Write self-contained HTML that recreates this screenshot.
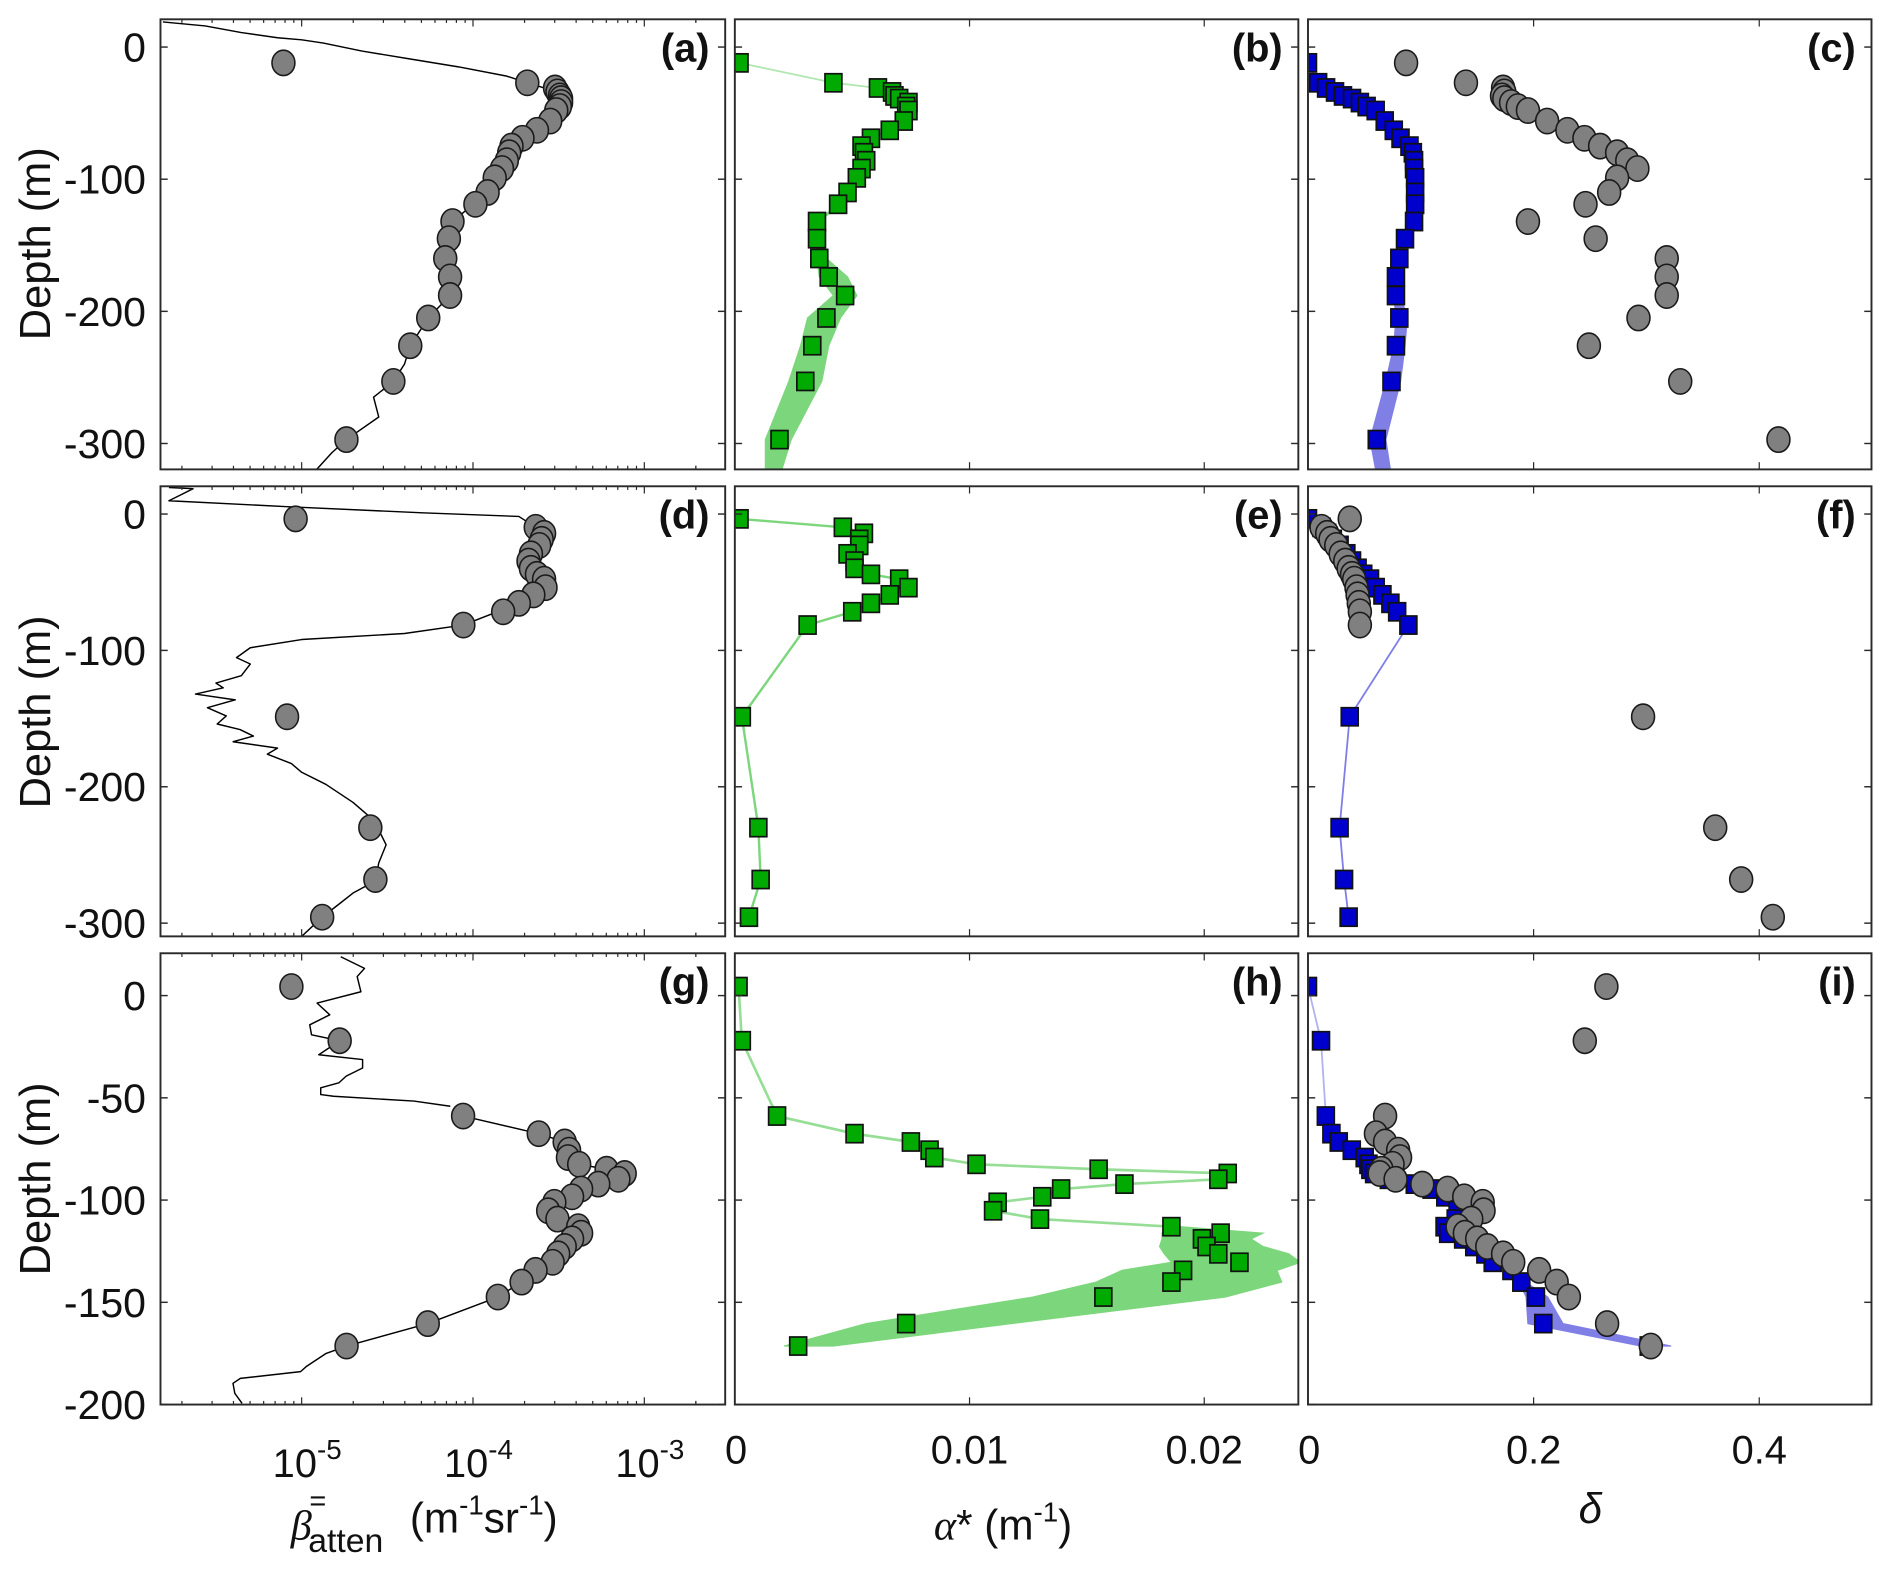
<!DOCTYPE html>
<html><head><meta charset="utf-8">
<style>
html,body{margin:0;padding:0;background:#fff;}
svg{display:block;}
text{font-family:"Liberation Sans",Arial,sans-serif;fill:#111;}
</style></head>
<body>
<svg id="fig" xmlns="http://www.w3.org/2000/svg" width="1892" height="1594" viewBox="0 0 1568 1321" preserveAspectRatio="none">
<defs id="defs"></defs>
<g id="layer"></g>
<text x="32" y="202" font-size="36" text-anchor="middle" dominant-baseline="middle" transform="rotate(-90 32 202)">Depth (m)</text>
<text x="32" y="590" font-size="36" text-anchor="middle" dominant-baseline="middle" transform="rotate(-90 32 590)">Depth (m)</text>
<text x="32" y="977" font-size="36" text-anchor="middle" dominant-baseline="middle" transform="rotate(-90 32 977)">Depth (m)</text>
<text x="241" y="1276" font-size="35"><tspan font-family="Liberation Serif" font-style="italic">β</tspan><tspan font-size="24" dx="-2" dy="-24">=</tspan><tspan font-size="28" dx="-15" dy="34">atten</tspan><tspan dx="22" dy="-16">(m</tspan><tspan font-size="23" dy="-15">-1</tspan><tspan dy="15">sr</tspan><tspan font-size="23" dy="-15">-1</tspan><tspan dy="15">)</tspan></text>
<text x="774" y="1276" font-size="35"><tspan font-family="Liberation Serif" font-style="italic">α</tspan><tspan>* (m</tspan><tspan font-size="23" dy="-15">-1</tspan><tspan dy="15">)</tspan></text>
<text x="1318" y="1262" font-size="35" text-anchor="middle" font-family="Liberation Serif" font-style="italic">δ</text>
</svg>
<script>
// ---------- DATA ----------
// Row 1 (panels a,b,c)
const depth1 = [-12,-27,-31,-34,-37,-39,-42,-45,-48,-56,-63,-69,-75,-80,-86,-92,-99,-110,-119,-132,-145,-160,-174,-188,-205,-226,-253,-297];
const logBetaA = [-5.106,-3.683,-3.521,-3.507,-3.493,-3.486,-3.486,-3.493,-3.514,-3.549,-3.627,-3.711,-3.775,-3.789,-3.803,-3.831,-3.873,-3.915,-3.986,-4.120,-4.141,-4.162,-4.134,-4.134,-4.261,-4.366,-4.465,-4.739];
const lineDepthA = [19,16,11,7,5.5,3,-3,-9,-15,-22,-27,-34,-42,-50,-63,-75,-92,-110,-132,-160,-188,-205,-226,-240,-253,-265,-280,-297,-307,-320];
const lineLogBetaA = [-5.81,-5.563,-5.352,-5.141,-5.0,-4.873,-4.648,-4.366,-4.085,-3.803,-3.683,-3.507,-3.486,-3.514,-3.627,-3.775,-3.831,-3.915,-4.120,-4.162,-4.134,-4.261,-4.366,-4.40,-4.465,-4.58,-4.55,-4.739,-4.824,-4.915];
const alphaB = [0.0002,0.0042,0.0061,0.0067,0.0068,0.0070,0.0074,0.0073,0.0074,0.0072,0.0066,0.0058,0.0054,0.0055,0.0056,0.0054,0.0052,0.0048,0.0044,0.0035,0.0035,0.0036,0.0040,0.0047,0.0039,0.0033,0.0030,0.0019];
const bandDepthB = [-119,-132,-145,-160,-174,-188,-205,-226,-253,-297,-320];
const bandLoB = [0.0044,0.0035,0.0035,0.0035,0.0036,0.0042,0.0031,0.0028,0.0023,0.0013,0.0013];
const bandHiB = [0.0045,0.0036,0.0037,0.0039,0.0048,0.0052,0.0045,0.0040,0.0037,0.0024,0.0020];
const deltaSqC = [0,0.009,0.016,0.024,0.031,0.039,0.046,0.052,0.060,0.068,0.076,0.082,0.090,0.093,0.094,0.094,0.095,0.095,0.095,0.094,0.086,0.081,0.078,0.078,0.081,0.078,0.074,0.061];
const deltaCirC = [0.087,0.140,0.173,0.174,0.172,0.174,0.180,0.186,0.195,0.212,0.230,0.245,0.259,0.274,0.283,0.292,0.274,0.267,0.246,0.195,0.255,0.318,0.318,0.318,0.293,0.249,0.330,0.417];
const bandDepthC = [-174,-188,-205,-226,-253,-297,-320];
const bandLoC = [0.076,0.076,0.078,0.076,0.069,0.055,0.060];
const bandHiC = [0.080,0.082,0.088,0.086,0.082,0.069,0.073];
// Row 2 (panels d,e,f)
const depth2 = [-3.5,-9.7,-14.2,-18.6,-23,-29.2,-34.5,-39.8,-44.2,-47.8,-54,-59.3,-65.5,-71.7,-81.4,-148.7,-230,-268,-295.6];
const logBetaD = [-5.035,-3.634,-3.585,-3.599,-3.613,-3.662,-3.676,-3.662,-3.627,-3.585,-3.577,-3.648,-3.732,-3.824,-4.056,-5.085,-4.599,-4.570,-4.880];
const lineDepthD = [19.5,18.6,14.2,9.7,5.3,0.9,-1.8,-9.7,-23,-39.8,-54,-65.5,-81.4,-87.6,-92,-98,-105.3,-110,-118.6,-124,-127.4,-132,-136.3,-142,-148,-154,-158,-162.8,-167,-171.7,-176.1,-183,-189.4,-198.2,-211.5,-224.8,-242.5,-255.8,-269,-277.9,-286.7,-295.6,-309.7];
const lineLogBetaD = [-5.775,-5.634,-5.704,-5.775,-5.070,-4.296,-3.732,-3.634,-3.613,-3.662,-3.577,-3.732,-4.056,-4.40,-5.0,-5.30,-5.38,-5.30,-5.352,-5.50,-5.458,-5.62,-5.387,-5.55,-5.44,-5.493,-5.36,-5.282,-5.40,-5.141,-5.20,-5.06,-5.0,-4.859,-4.70,-4.577,-4.507,-4.55,-4.570,-4.70,-4.789,-4.880,-5.0];
const alphaE = [0.0002,0.0046,0.0055,0.0053,0.0053,0.0048,0.0051,0.0051,0.0058,0.0070,0.0074,0.0066,0.0058,0.0050,0.0031,0.0003,0.0010,0.0011,0.0006];
const deltaSqF = [0,0.012,0.017,0.022,0.028,0.034,0.039,0.044,0.049,0.055,0.060,0.066,0.073,0.079,0.089,0.037,0.028,0.032,0.036];
const deltaCirF = [0.037,0.012,0.017,0.020,0.025,0.029,0.033,0.036,0.039,0.041,0.043,0.044,0.045,0.046,0.046,0.297,0.361,0.384,0.412];
// Row 3 (panels g,h,i)
const depth3 = [4.4,-22.1,-58.9,-67.5,-71.6,-75.6,-79.2,-82.5,-84.9,-87,-89.8,-92.2,-94.6,-98.4,-101.1,-105.2,-109.3,-113,-116.2,-119,-122.7,-126.3,-130.4,-134.4,-140.1,-147.4,-160.4,-171.4];
const logBetaG = [-5.060,-4.778,-4.058,-3.616,-3.465,-3.439,-3.446,-3.380,-3.220,-3.115,-3.151,-3.269,-3.369,-3.422,-3.525,-3.561,-3.507,-3.386,-3.369,-3.422,-3.465,-3.503,-3.535,-3.635,-3.716,-3.855,-4.264,-4.738];
const lineDepthG = [19,13.3,9.3,1.9,-3.7,-9.4,-14.3,-19.2,-22.1,-28.9,-31.3,-35.4,-39.4,-42.7,-45.1,-48.4,-49.2,-51.6,-54.1];
const lineLogBetaG = [-4.772,-4.633,-4.676,-4.654,-4.910,-4.836,-4.953,-4.942,-4.778,-4.900,-4.644,-4.644,-4.740,-4.783,-4.889,-4.889,-4.814,-4.345,-4.132];
const lineDepthG2 = [-171.4,-175,-181.5,-183.9,-187.2,-189.6,-194.5,-199.4];
const lineLogBetaG2 = [-4.738,-4.857,-4.974,-5.006,-5.358,-5.401,-5.390,-5.348];
const alphaH = [0.00016,0.0003,0.0018,0.0051,0.0075,0.0083,0.0085,0.0103,0.0155,0.0210,0.0206,0.0166,0.0139,0.0131,0.0112,0.0110,0.0130,0.0186,0.0207,0.0199,0.0201,0.0206,0.0215,0.0191,0.0186,0.0157,0.0073,0.0027];
const bandDepthH = [-113,-116.2,-119,-122.7,-126.3,-130.4,-134.4,-140.1,-147.4,-160.4,-171.4];
const bandLoH = [0.0183,0.0182,0.0182,0.0181,0.0183,0.0186,0.0165,0.0154,0.0127,0.0056,0.0021];
const bandHiH = [0.0190,0.0225,0.0220,0.0225,0.0236,0.0241,0.0231,0.0233,0.0209,0.0118,0.0042];
const deltaSqI = [0,0.0115,0.0158,0.0207,0.0273,0.0388,0.0503,0.0536,0.0553,0.0586,0.0717,0.0947,0.1095,0.1217,0.1342,0.1326,0.1309,0.1211,0.1243,0.1375,0.1474,0.1572,0.1638,0.1803,0.1891,0.2020,0.2086,0.3020];
const deltaCirI = [0.2645,0.2454,0.0684,0.0602,0.0684,0.0799,0.0816,0.075,0.0651,0.0635,0.0776,0.1013,0.1237,0.1385,0.1549,0.1556,0.1447,0.1326,0.1391,0.15,0.1589,0.173,0.1819,0.2049,0.2204,0.2312,0.2651,0.3039];
const bandDepthI = [-140.1,-147.4,-160.4,-171.4];
const bandLoI = [0.187,0.1934,0.195,0.295];
const bandHiI = [0.193,0.2125,0.226,0.322];
// tick labels
const yTicks12 = [0,-100,-200,-300];
const yTicks3 = [0,-50,-100,-150,-200];
const logDecades = [-5,-4,-3];
const alphaTicks = [0,0.01,0.02];
const alphaTickLabels = ["0","0.01","0.02"];
const deltaTicks = [0,0.2,0.4];
const deltaTickLabels = ["0","0.2","0.4"];

// ---------- GEOMETRY ----------
const NS = "http://www.w3.org/2000/svg";
const cols = [{x0:133,x1:601,d0:-5.824,d1:-2.528},{x0:609,x1:1076,d0:0,d1:0.02401},{x0:1084,x1:1551,d0:0,d1:0.4995}];
const rows = [{y0:16,y1:389,top:21,bot:-319.6},{y0:403,y1:776,top:20.35,bot:-309.7},{y0:790,y1:1164,top:20.7,bot:-200}];
function sx(c,v){const k=cols[c];return k.x0+(v-k.d0)/(k.d1-k.d0)*(k.x1-k.x0);}
function sy(r,d){const k=rows[r];return k.y0+(k.top-d)/(k.top-k.bot)*(k.y1-k.y0);}
const layer=document.getElementById('layer');
const defs=document.getElementById('defs');
function mk(tag,attrs,parent){const e=document.createElementNS(NS,tag);for(const a in attrs)e.setAttribute(a,attrs[a]);(parent||layer).appendChild(e);return e;}

const groups=[];
const letters='abcdefghi';
for(let r=0;r<3;r++){for(let c=0;c<3;c++){
  const cp=mk('clipPath',{id:'cp'+r+c},defs);
  mk('rect',{x:cols[c].x0,y:rows[r].y0,width:cols[c].x1-cols[c].x0,height:rows[r].y1-rows[r].y0},cp);
  const g=mk('g',{'clip-path':'url(#cp'+r+c+')'});
  
  
  groups.push(g);
}}
function G(r,c){return groups[r*3+c];}

function polyline(r,c,xs,ds,stroke,w,name,op){
  const pts=xs.map((v,i)=>sx(c,v).toFixed(1)+','+sy(r,ds[i]).toFixed(1)).join(' ');
  const e=mk('polyline',{points:pts,fill:'none',stroke:stroke,'stroke-width':w,'stroke-linejoin':'round','stroke-opacity':op||1},G(r,c));
  
  
  return e;
}
function band(r,c,ds,lo,hi,fill,name){
  const a=lo.map((v,i)=>sx(c,v).toFixed(1)+','+sy(r,ds[i]).toFixed(1));
  const b=hi.map((v,i)=>sx(c,v).toFixed(1)+','+sy(r,ds[i]).toFixed(1)).reverse();
  const e=mk('polygon',{points:a.concat(b).join(' '),fill:fill,stroke:fill,'stroke-width':1},G(r,c));
  
  
}
function circles(r,c,xs,ds,name){
  xs.forEach((v,i)=>{
    const e=mk('ellipse',{cx:sx(c,v).toFixed(1),cy:sy(r,ds[i]).toFixed(1),rx:9.5,ry:10.5,fill:'#808080',stroke:'#1a1a1a','stroke-width':1.3},G(r,c));
    
    
  });
}
function squares(r,c,xs,ds,fill,name){
  xs.forEach((v,i)=>{
    const e=mk('rect',{x:(sx(c,v)-7).toFixed(1),y:(sy(r,ds[i])-7.5).toFixed(1),width:14,height:15,fill:fill,stroke:'#111','stroke-width':1.4},G(r,c));
    
    
  });
}
const GREEN='#00aa00', GLINE='#7cd67c', BLUE='#0000cc', BLINE='#7f7fe6';

// Row 1
polyline(0,0,lineLogBetaA,lineDepthA,'#000',1.2,'beta-profile-line-a');
circles(0,0,logBetaA,depth1,'beta-point-a');
polyline(0,1,alphaB,depth1,GLINE,1.5,'alpha-line-b',0.6);
band(0,1,bandDepthB,bandLoB,bandHiB,GLINE,'alpha-uncertainty-band-b');
squares(0,1,alphaB,depth1,GREEN,'alpha-point-b');
polyline(0,2,deltaSqC,depth1,BLINE,1.5,'delta-line-c',0.6);
band(0,2,bandDepthC,bandLoC,bandHiC,BLINE,'delta-uncertainty-band-c');
squares(0,2,deltaSqC,depth1,BLUE,'delta-retrieved-point-c');
circles(0,2,deltaCirC,depth1,'delta-measured-point-c');
// Row 2
polyline(1,0,lineLogBetaD,lineDepthD,'#000',1.2,'beta-profile-line-d');
circles(1,0,logBetaD,depth2,'beta-point-d');
polyline(1,1,alphaE,depth2,GLINE,2,'alpha-line-e');
squares(1,1,alphaE,depth2,GREEN,'alpha-point-e');
polyline(1,2,deltaSqF,depth2,BLINE,1.5,'delta-line-f');
squares(1,2,deltaSqF,depth2,BLUE,'delta-retrieved-point-f');
circles(1,2,deltaCirF,depth2,'delta-measured-point-f');
// Row 3
polyline(2,0,lineLogBetaG,lineDepthG,'#000',1.2,'beta-profile-line-g-top');
polyline(2,0,logBetaG.slice(2),depth3.slice(2),'#000',1.2,'beta-profile-line-g-mid');
polyline(2,0,lineLogBetaG2,lineDepthG2,'#000',1.2,'beta-profile-line-g-bottom');
circles(2,0,logBetaG,depth3,'beta-point-g');
polyline(2,1,alphaH,depth3,GLINE,2.2,'alpha-line-h',0.8);
band(2,1,bandDepthH,bandLoH,bandHiH,GLINE,'alpha-uncertainty-band-h');
squares(2,1,alphaH,depth3,GREEN,'alpha-point-h');
polyline(2,2,deltaSqI,depth3,BLINE,1.5,'delta-line-i',0.6);
band(2,2,bandDepthI,bandLoI,bandHiI,BLINE,'delta-uncertainty-band-i');
squares(2,2,deltaSqI,depth3,BLUE,'delta-retrieved-point-i');
circles(2,2,deltaCirI,depth3,'delta-measured-point-i');

// ---------- AXES ----------
for(let r=0;r<3;r++){for(let c=0;c<3;c++){
  const X0=cols[c].x0,X1=cols[c].x1,Y0=rows[r].y0,Y1=rows[r].y1;
  const f=mk('rect',{x:X0,y:Y0,width:X1-X0,height:Y1-Y0,fill:'none',stroke:'#2a2a2a','stroke-width':1.6});
  
  
  const yt=r<2?yTicks12:yTicks3;
  yt.forEach(d=>{const y=sy(r,d);
    const t1=mk('line',{x1:X0,y1:y,x2:X0+6,y2:y,stroke:'#2a2a2a','stroke-width':1.2});
    
    
    const t2=mk('line',{x1:X1,y1:y,x2:X1-6,y2:y,stroke:'#2a2a2a','stroke-width':1.2});
    
    
  });
  let xt=[];
  if(c===0){logDecades.forEach(k=>{for(let m=1;m<10;m++){const v=k+Math.log10(m);xt.push([v,m===1?6:3]);}});
    for(let m=2;m<10;m++){xt.push([-6+Math.log10(m),3]);xt.push([-3+Math.log10(m),3]);}}
  else if(c===1){alphaTicks.forEach(v=>xt.push([v,6]));}
  else {deltaTicks.forEach(v=>xt.push([v,6]));}
  xt.forEach(([v,L])=>{const x=sx(c,v); if(x<=X0+0.5||x>=X1-0.5)return;
    const t1=mk('line',{x1:x,y1:Y1,x2:x,y2:Y1-L,stroke:'#2a2a2a','stroke-width':1});
    
    
    const t2=mk('line',{x1:x,y1:Y0,x2:x,y2:Y0+L,stroke:'#2a2a2a','stroke-width':1});
    
    
  });
  const lab=mk('text',{x:X1-13,y:Y0+35,'font-size':33,'font-weight':'bold','text-anchor':'end'});
  lab.textContent='('+letters[r*3+c]+')';
  
  
}
  const yt=r<2?yTicks12:yTicks3;
  yt.forEach(d=>{const t=mk('text',{x:121,y:sy(r,d)+12,'font-size':34,'text-anchor':'end'});
    t.textContent=String(d);
    
    
  });
}
// x tick labels
logDecades.forEach(k=>{const x=sx(0,k);
  const t=mk('text',{x:x-24,y:1224,'font-size':33});
  
  
  const a=mk('tspan',{},t);a.textContent='10';
  const b=mk('tspan',{'font-size':23,dy:-15},t);b.textContent=String(k);
});
alphaTicks.forEach((v,i)=>{const t=mk('text',{x:sx(1,v)+(i===0?1:0),y:1213,'font-size':33,'text-anchor':'middle'});
  t.textContent=alphaTickLabels[i];
  
  
});
deltaTicks.forEach((v,i)=>{const t=mk('text',{x:sx(2,v)+(i===0?1:0),y:1213,'font-size':33,'text-anchor':'middle'});
  t.textContent=deltaTickLabels[i];
  
  
});
</script>
</body></html>
